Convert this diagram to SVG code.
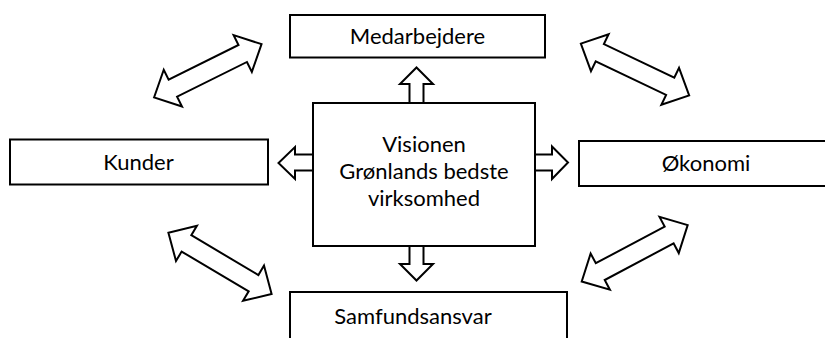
<svg xmlns="http://www.w3.org/2000/svg" width="825" height="338" viewBox="0 0 825 338">
<style>
.box{fill:#fff;stroke:#000;stroke-width:2}
.arr{fill:#fff;stroke:#000;stroke-width:2;stroke-linejoin:miter;stroke-miterlimit:10}
text{font-family:Lato,"Liberation Sans",sans-serif;font-size:22px;fill:#000;text-anchor:middle}
</style>
<defs>
<path id="dbl" d="M -60 0 L -39 -20.5 L -39 -9.5 L 39 -9.5 L 39 -20.5 L 60 0 L 39 20.5 L 39 9.5 L -39 9.5 L -39 20.5 Z"/>
</defs>
<g id="connectors">
<use href="#dbl" class="arr" transform="translate(207.8,70.8) rotate(-26.4)"/>
<use href="#dbl" class="arr" transform="translate(635,69.5) rotate(25.5)"/>
<use href="#dbl" class="arr" transform="translate(220,263.3) rotate(30.7)"/>
<use href="#dbl" class="arr" transform="translate(634.7,253.3) rotate(-28)"/>
<path class="arr" d="M 409.5 103 L 409.5 84 L 400 84 L 416.5 67.5 L 433 84 L 423.5 84 L 423.5 103"/>
<path class="arr" d="M 409.5 246 L 409.5 264 L 400 264 L 416.5 280.5 L 433 264 L 423.5 264 L 423.5 246"/>
<path class="arr" d="M 313 154.5 L 295 154.5 L 295 147 L 278.5 163 L 295 179 L 295 170.5 L 313 170.5"/>
<path class="arr" d="M 535 154.5 L 552 154.5 L 552 146.5 L 568 162.5 L 552 179 L 552 170.5 L 535 170.5"/>
</g>
<g id="medarbejdere">
<rect class="box" x="290" y="15" width="255" height="42.5"/>
<text x="417.5" y="43.5">Medarbejdere</text>
</g>
<g id="visionen">
<rect class="box" x="313" y="103" width="222" height="143"/>
<text x="424" y="152">Visionen</text>
<text x="424" y="179">Grønlands bedste</text>
<text x="424" y="206">virksomhed</text>
</g>
<g id="kunder">
<rect class="box" x="10" y="139.5" width="258" height="45"/>
<text x="138.5" y="170">Kunder</text>
</g>
<g id="oekonomi">
<rect class="box" x="579" y="141" width="260" height="45"/>
<text x="706" y="170.5">Økonomi</text>
</g>
<g id="samfundsansvar">
<rect class="box" x="290" y="292" width="277" height="60"/>
<text x="413" y="324">Samfundsansvar</text>
</g>
</svg>
